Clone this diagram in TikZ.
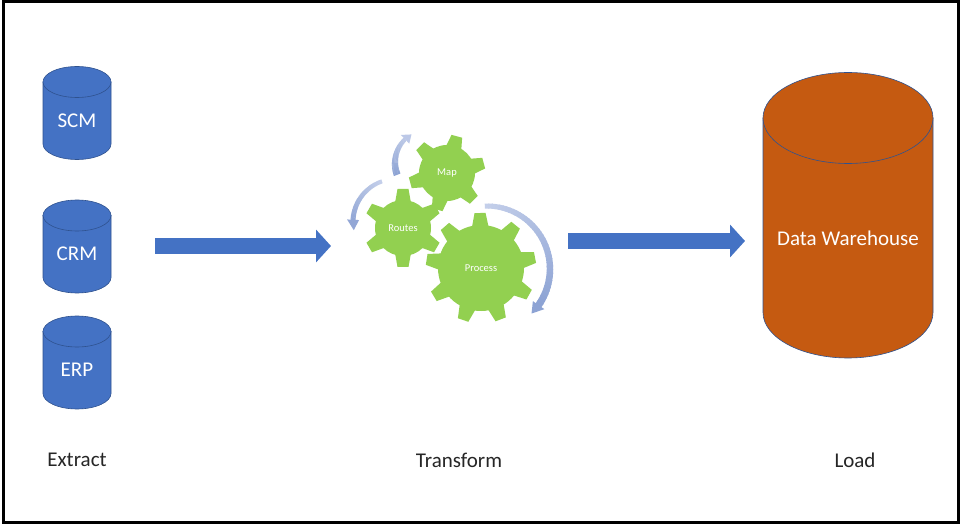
\documentclass[tikz,border=0pt]{standalone}
\usepackage{fontspec}
\setmainfont{Carlito}
\usetikzlibrary{arrows.meta}
\definecolor{dbblue}{HTML}{4472C4}
\definecolor{dbedge}{HTML}{2F528F}
\definecolor{whorange}{HTML}{C55A11}
\definecolor{geargreen}{HTML}{92D050}
\definecolor{cyclelite}{HTML}{C4CFEA}
\definecolor{cycledark}{HTML}{8DA3D4}
\tikzset{
  dbtext/.style={text=white, font=\fontsize{21}{24}\selectfont, inner sep=0pt},
  gearbody/.style={circle, fill=geargreen, text=white, inner sep=0pt, outer sep=0pt,
    font=\fontsize{10.5}{12}\selectfont},
  caption/.style={text=black!85, font=\fontsize{21}{24}\selectfont, inner sep=0pt},
  flowarrow/.style={draw=dbblue, line width=16pt, -{Triangle[length=15pt,width=32pt]}}
}
% #1 node name, #2 centre x, #3 top y, #4 bottom y, #5 half width, #6 lid depth,
% #7 fill, #8 text height, #9 text
\newcommand{\drawdrum}[9]{%
  \pgfmathsetmacro{\drumL}{#2-#5}%
  \pgfmathsetmacro{\drumR}{#2+#5}%
  \pgfmathsetmacro{\drumLid}{#3+#6}%
  \pgfmathsetmacro{\drumFoot}{#4-#6}%
  \pgfmathsetmacro{\drumK}{#4-0.45*#6}%
  \pgfmathsetmacro{\drumXa}{#2-0.55*#5}%
  \pgfmathsetmacro{\drumXb}{#2+0.55*#5}%
  \filldraw[fill=#7, draw=dbedge, line width=0.6pt]
    (\drumL,\drumLid) -- (\drumL,\drumFoot)
    .. controls (\drumL,\drumK) and (\drumXa,#4) .. (#2,#4)
    .. controls (\drumXb,#4) and (\drumR,\drumK) .. (\drumR,\drumFoot)
    -- (\drumR,\drumLid) -- cycle;
  \filldraw[fill=#7, draw=dbedge, line width=0.6pt]
    (#2,\drumLid) ellipse [x radius=#5, y radius=#6];
  \node[dbtext] (#1) at (#2,#8) {#9};%
}
% #1 name, #2 centre, #3 body radius, #4 tip radius, #5 tooth count, #6 first tooth angle,
% #7 base half width, #8 tip half width, #9 text
\newcommand{\drawgear}[9]{%
  \pgfmathsetmacro{\gearstep}{360/#5}%
  \pgfmathsetmacro{\gearlast}{#5-1}%
  \foreach \k in {0,...,\gearlast}{%
    \pgfmathsetmacro{\gearang}{#6+\k*\gearstep}%
    \begin{scope}[shift={#2}, rotate=\gearang]
      \fill[geargreen] (#3-3,-#7) -- (#4,-#8) -- (#4,#8) -- (#3-3,#7) -- cycle;
    \end{scope}
  }%
  \node[gearbody, minimum size=2*#3 pt] (#1) at #2 {#9};%
}
% #1 centre, #2 radius, #3 start angle, #4 shaft end angle, #5 tip angle,
% #6 start width, #7 end width, #8 head half width, #9 dark share at the tail;
% \mixhead holds the dark share at the head
\newcommand{\cyclearc}[9]{%
  \begin{scope}[shift={#1}]
    \foreach \i in {0,...,39}{%
      \pgfmathsetmacro{\aA}{#3+(#4-#3)*\i/40}%
      \pgfmathsetmacro{\aB}{#3+(#4-#3)*(\i+1.3)/40}%
      \pgfmathsetmacro{\wA}{(#6+(#7-#6)*\i/40)/2}%
      \pgfmathsetmacro{\wB}{(#6+(#7-#6)*(\i+1)/40)/2}%
      \pgfmathsetmacro{\mixv}{#9+(\mixhead-#9)*\i/39}%
      \fill[cycledark!\mixv!cyclelite] (\aA:#2-\wA) -- (\aA:#2+\wA) -- (\aB:#2+\wB) -- (\aB:#2-\wB) -- cycle;
    }%
    \fill[cycledark!\mixhead!cyclelite] (#4:#2-#8) -- (#5:#2) -- (#4:#2+#8) -- cycle;
  \end{scope}
}
\begin{document}
\begin{tikzpicture}[x=1pt,y=-1pt]
  \useasboundingbox (0,0) rectangle (960,526);
  \fill[white] (0,0) rectangle (960,526);
  \draw[black, line width=3pt] (3.5,1.8) rectangle (958.8,522);

  % source systems
  \drawdrum{scm}{77}{66.5}{159.5}{34}{15.5}{dbblue}{121}{SCM}
  \drawdrum{crm}{77}{200}{293}{34}{15.5}{dbblue}{254}{CRM}
  \drawdrum{erp}{77}{316}{409}{34}{15.5}{dbblue}{370}{ERP}
  % warehouse
  \drawdrum{dw}{848}{72.5}{358}{85}{45.5}{whorange}{238}{Data Warehouse}

  % flow arrows
  \coordinate (extractEnd) at (155,246);
  \coordinate (transformIn) at (331,246);
  \coordinate (transformOut) at (568,241);
  \coordinate (loadIn) at (745,241);
  \draw[flowarrow] (extractEnd) -- (transformIn);
  \draw[flowarrow] (transformOut) -- (loadIn);

  % rotation arrows around the gears
  \def\mixhead{15}
  \cyclearc{(428,163)}{33}{159}{226}{240}{7}{4}{6}{100}
  \def\mixhead{90}
  \cyclearc{(396,222)}{43}{251}{183}{169}{4}{5}{6}{0}
  \def\mixhead{100}
  \cyclearc{(487,269)}{63}{-92}{35}{45}{5}{7}{7}{0}

  % gears
  \drawgear{mapgear}{(447,173)}{28}{38}{6}{-105}{8}{5.5}{Map}
  \drawgear{routesgear}{(403,228)}{28}{39}{6}{-90}{8}{5.5}{Routes\hspace{5pt}}
  \drawgear{processgear}{(481,268)}{43}{55}{9}{11}{8.5}{5.5}{Process}

  % stage captions
  \node[caption] (extract) at (77,460) {Extract};
  \node[caption] (transform) at (459,460) {Transform};
  \node[caption] (load) at (855,460) {Load};
\end{tikzpicture}
\end{document}
